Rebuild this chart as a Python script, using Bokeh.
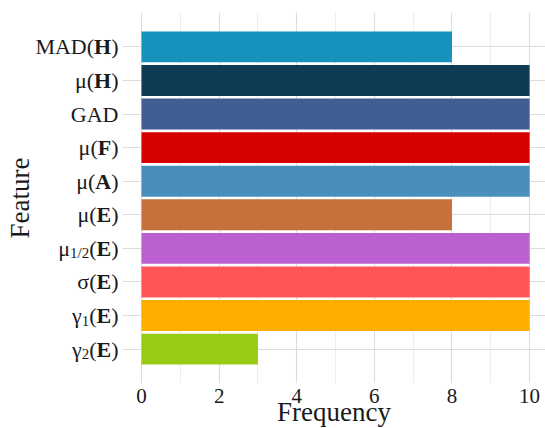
import math
from bokeh.plotting import figure
from bokeh.models import FixedTicker, Range1d, ColumnDataSource
from bokeh.layouts import row, column
from bokeh.core.properties import value
from bokeh.embed import file_html
from bokeh.resources import INLINE

# ---- data (top to bottom) ----
features_prefix = ["MAD", "μ", "GAD", "μ", "μ", "μ", "μ", "σ", "γ", "γ"]
features_sub = ["", "", "", "", "", "", "1/2", "", "1", "2"]
features_bold = ["H", "H", "", "F", "A", "E", "E", "E", "E", "E"]
frequency = [8, 10, 10, 10, 10, 8, 10, 10, 10, 3]
colors = ["#1593BC", "#0E3C54", "#405E92", "#D50000", "#4A8EBB",
          "#C6713A", "#BB5FD1", "#FF5556", "#FFAE00", "#98CC14"]
xticks = [0, 2, 4, 6, 8, 10]
xminor = [1, 3, 5, 7, 9]

n = len(frequency)
ypos = [n - i for i in range(n)]

FONT = "Liberation Serif"
TXT = "#1a1a1a"
FS = 22
TICKFS = 21
SUBFS = 15
TITLEFS = 27
# Liberation Serif (Times metrics) advance widths, em
W_PAREN = 0.333
W_BOLD = {"H": 0.778, "F": 0.611, "A": 0.722, "E": 0.667}
W_DIG = {"1": 0.5, "2": 0.5, "/": 0.278}

XMIN, XMAX = -0.49, 10.41
YMIN, YMAX = 1 - 1.025, n + 1.025

LEFT_W, MAIN_W, TOP, PLOT_H, BOT_H = 122, 423, 12, 383, 45

yr = Range1d(YMIN, YMAX)
xr = Range1d(XMIN, XMAX)


def bare(fig):
    fig.min_border = 0
    fig.outline_line_color = None
    fig.axis.visible = False
    fig.grid.visible = False
    return fig


# ---- main plot ----
p = figure(width=MAIN_W, height=PLOT_H, output_backend="svg", toolbar_location=None,
           x_range=xr, y_range=yr)
p.min_border = 0
p.min_border_top = TOP
p.outline_line_color = None
p.axis.visible = False

src = ColumnDataSource(dict(y=ypos, right=frequency, color=colors))
p.hbar(y="y", left=0, right="right", height=0.92, color="color", source=src,
       line_color=None)

p.xgrid.ticker = FixedTicker(ticks=xticks, minor_ticks=xminor)
p.xgrid.grid_line_color = "#DCDCDC"
p.xgrid.grid_line_width = 1.1
p.xgrid.minor_grid_line_color = "#EDEDED"
p.xgrid.minor_grid_line_width = 1.1
p.ygrid.ticker = FixedTicker(ticks=ypos)
p.ygrid.grid_line_color = "#DCDCDC"
p.ygrid.grid_line_width = 1.1

# ---- left panel: y tick labels and y title ----
lf = bare(figure(width=LEFT_W, height=PLOT_H, output_backend="svg",
                 toolbar_location=None, x_range=Range1d(0, LEFT_W), y_range=yr))
lf.min_border_top = TOP
RIGHT = LEFT_W - 4
for i in range(n):
    y = ypos[i]
    off = 0.0
    parts = []
    if features_bold[i]:
        parts.append((")", "normal", FS, 0, W_PAREN * FS))
        parts.append((features_bold[i], "bold", FS, 0, W_BOLD[features_bold[i]] * FS))
        parts.append(("(", "normal", FS, 0, W_PAREN * FS))
    if features_sub[i]:
        w = sum(W_DIG[c] for c in features_sub[i]) * SUBFS
        parts.append((features_sub[i], "normal", SUBFS, 5, w))
    parts.append((features_prefix[i], "normal", FS, 0, 0))
    for txt, style, fs, dy, w in parts:
        lf.text(x=[RIGHT], y=[y], text=[txt], x_offset=-off, y_offset=dy,
                text_font=value(FONT), text_font_size=f"{fs}px",
                text_font_style=style, text_align="right",
                text_baseline="middle", text_color=TXT)
        off += w
lf.text(x=[19], y=[(YMIN + YMAX) / 2], text=["Feature"], angle=math.pi / 2,
        text_font=value(FONT), text_font_size=f"{TITLEFS}px", text_align="center",
        text_baseline="middle", text_color=TXT)

# ---- bottom panel: x tick labels and x title ----
bf = bare(figure(width=LEFT_W + MAIN_W, height=BOT_H, output_backend="svg",
                 toolbar_location=None, x_range=xr, y_range=Range1d(0, BOT_H)))
bf.min_border_left = LEFT_W
bf.text(x=xticks, y=[BOT_H - 12] * len(xticks), text=[str(t) for t in xticks],
        text_font=value(FONT), text_font_size=f"{TICKFS}px", text_align="center",
        text_baseline="middle", text_color=TXT)
bf.text(x=[(XMIN + XMAX) / 2], y=[BOT_H - 28], text=["Frequency"],
        text_font=value(FONT), text_font_size=f"{TITLEFS}px", text_align="center",
        text_baseline="middle", text_color=TXT)

layout = column(row(lf, p), bf)
open("out.html", "w").write(file_html(layout, INLINE))
